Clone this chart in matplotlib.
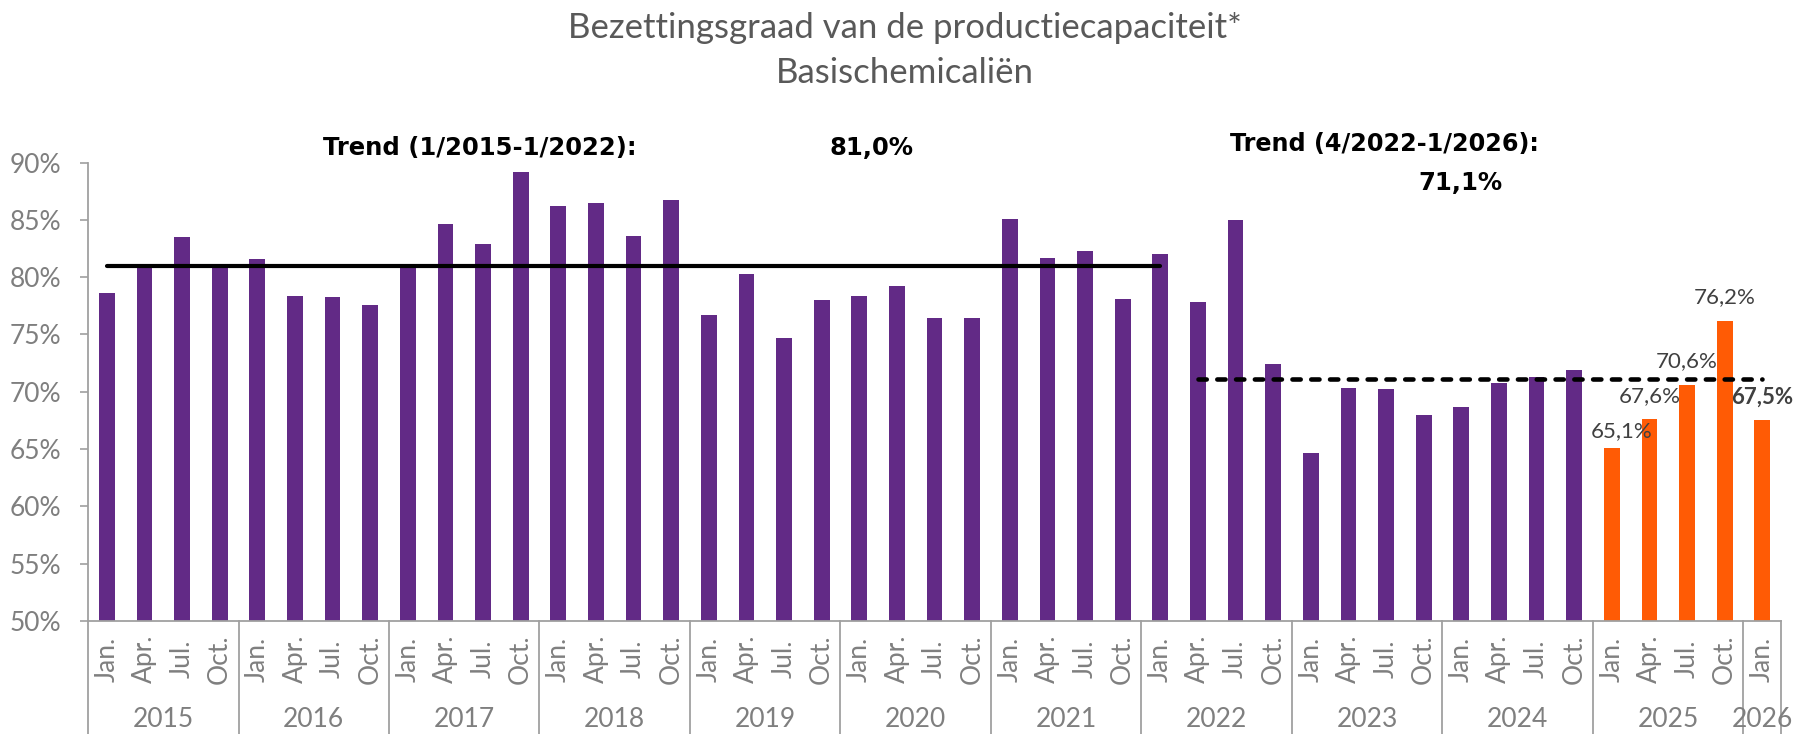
import matplotlib
matplotlib.use("Agg")
import matplotlib.pyplot as plt
import matplotlib.transforms as mtransforms
import numpy as np

# data (%)
years = [2015, 2016, 2017, 2018, 2019, 2020, 2021, 2022, 2023, 2024, 2025, 2026]
months = ['Jan.', 'Apr.', 'Jul.', 'Oct.']
values = [
    78.6, 81.0, 83.5, 80.9,   # 2015
    81.6, 78.4, 78.3, 77.6,   # 2016
    81.0, 84.6, 82.9, 89.2,   # 2017
    86.2, 86.5, 83.6, 86.7,   # 2018
    76.7, 80.3, 74.7, 78.0,   # 2019
    78.4, 79.2, 76.4, 76.4,   # 2020
    85.1, 81.7, 82.3, 78.1,   # 2021
    82.0, 77.8, 85.0, 72.4,   # 2022
    64.7, 70.3, 70.2, 68.0,   # 2023
    68.7, 70.8, 71.3, 71.9,   # 2024
    65.1, 67.6, 70.6, 76.2,   # 2025
    67.5,                     # 2026
]
n_purple = 40  # 2015-2024 purple, rest orange

trend1 = 81.0   # 1/2015 - 1/2022
trend1_span = (0, 28)
trend2 = 71.1   # 4/2022 - 1/2026
trend2_span = (29, 44)

PURPLE = '#622A86'
ORANGE = '#FF5B05'
GREY = '#7F7F7F'
LINE_GREY = '#A0A0A0'
FONT = 'Lato'

n = len(values)
x = np.arange(n)
labels = [months[i % 4] for i in range(n)]
colors = [PURPLE if i < n_purple else ORANGE for i in range(n)]

fig = plt.figure(figsize=(17.96, 7.34), dpi=100)
ax = fig.add_axes([0.0490, 0.1540, 0.9427, 0.6245])

ax.bar(x, values, width=0.42, color=colors, zorder=2)

ax.plot(trend1_span, [trend1, trend1], color='black', lw=3, solid_capstyle='round', zorder=3)
ax.plot(trend2_span, [trend2, trend2], color='black', lw=3.3, dashes=(1.8, 2.3),
        dash_capstyle='round', zorder=3)

ax.set_xlim(-0.5, n - 0.5)
ax.set_ylim(50, 90)
ax.set_yticks(np.arange(50, 91, 5))
ax.set_yticklabels([f"{v}%" for v in range(50, 91, 5)], fontsize=19, color=GREY, family=FONT)
ax.tick_params(axis='y', length=6, width=1.2, color=LINE_GREY, pad=13)
ax.set_xticks([])

for side in ['top', 'right']:
    ax.spines[side].set_visible(False)
for side in ['left', 'bottom']:
    ax.spines[side].set_color(LINE_GREY)
    ax.spines[side].set_linewidth(1.3)

# multi-level category axis
blend = mtransforms.blended_transform_factory(ax.transData, fig.transFigure)
for i in range(n):
    ax.text(x[i], 0.1022, labels[i], transform=blend, rotation=90, ha='center',
            va='center', fontsize=19, color=GREY, family=FONT)
for k, yr in enumerate(years):
    first = 4 * k
    last = min(4 * k + 3, n - 1)
    ax.text((first + last) / 2, 0.0191, str(yr), transform=blend, ha='center',
            va='center', fontsize=19, color=GREY, family=FONT)
bounds = [4 * k - 0.5 for k in range(len(years))] + [n - 0.5]
for b in bounds:
    ax.plot([b, b], [0.154, 0.0], transform=blend, color=LINE_GREY, lw=1.3, clip_on=False)

# data labels on orange bars
for i in range(n_purple, n):
    bold = (i == n - 1)
    off = (7, 12) if i == n_purple else (0, 17)
    ax.annotate(f"{values[i]:.1f}".replace('.', ',') + '%', (x[i], values[i]),
                xytext=off, textcoords='offset points', ha='center', va='center',
                fontsize=16, color='#404040', family=FONT,
                fontweight='bold' if bold else 'normal', zorder=4)

# trend annotations
fig.text(0.1798, 0.7984, 'Trend (1/2015-1/2022):', ha='left', va='center',
         fontsize=17.5, fontweight='bold', family='DejaVu Sans')
fig.text(0.4855, 0.7984, f"{trend1:.1f}".replace('.', ',') + '%', ha='center', va='center',
         fontsize=17.5, fontweight='bold', family='DejaVu Sans')
fig.text(0.6849, 0.8038, 'Trend (4/2022-1/2026):', ha='left', va='center',
         fontsize=17.2, fontweight='bold', family='DejaVu Sans')
fig.text(0.8129, 0.7507, f"{trend2:.1f}".replace('.', ',') + '%', ha='center', va='center',
         fontsize=17.5, fontweight='bold', family='DejaVu Sans')

# title
fig.text(0.504, 0.962, 'Bezettingsgraad van de productiecapaciteit*', ha='center', va='center',
         fontsize=25, color='#595959', family=FONT)
fig.text(0.504, 0.900, 'Basischemicaliën', ha='center', va='center',
         fontsize=25, color='#595959', family=FONT)

fig.savefig('out.png', dpi=100)
